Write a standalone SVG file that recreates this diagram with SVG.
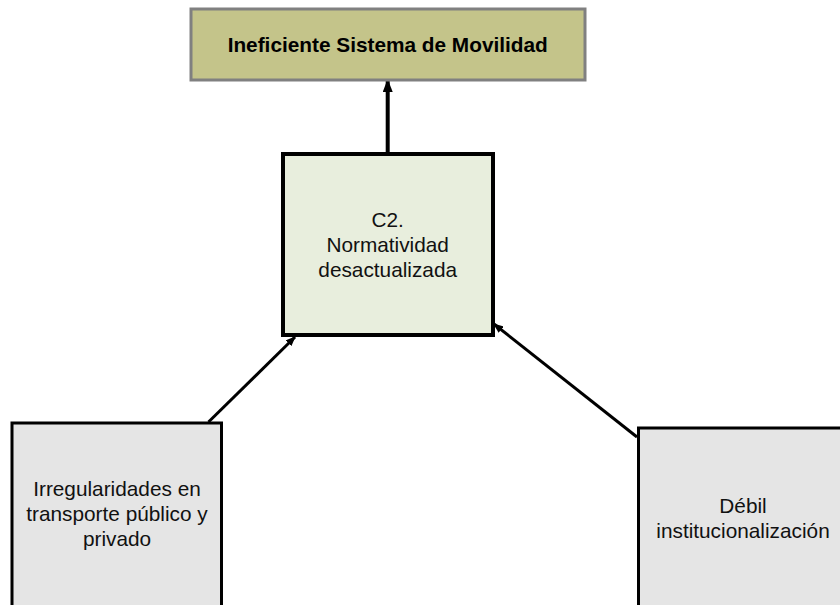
<svg xmlns="http://www.w3.org/2000/svg" width="840" height="605" viewBox="0 0 840 605">
<defs>
<marker id="ah" markerWidth="10" markerHeight="8" refX="9" refY="4" orient="auto" markerUnits="userSpaceOnUse">
<path d="M0,0 L10,4 L0,8 Z" fill="#000"/>
</marker>
<marker id="ah2" markerWidth="13" markerHeight="10" refX="12" refY="5" orient="auto" markerUnits="userSpaceOnUse">
<path d="M0,0 L13,5 L0,10 Z" fill="#000"/>
</marker>
</defs>
<style>
text{font-family:"Liberation Sans",Arial,sans-serif;font-size:20.8px;fill:#111;text-anchor:middle}
.b{font-weight:bold;fill:#000}
.conn{stroke:#000;fill:none}
</style>
<rect width="840" height="605" fill="#fff"/>
<g id="connectors">
<line class="conn" x1="387.7" y1="153" x2="387.7" y2="80" stroke-width="4" marker-end="url(#ah2)"/>
<line class="conn" x1="208.5" y1="422" x2="295" y2="337" stroke-width="3" marker-end="url(#ah)"/>
<line class="conn" x1="637" y1="437" x2="494" y2="324" stroke-width="3" marker-end="url(#ah)"/>
</g>
<g id="top">
<rect x="191" y="9" width="394" height="71" fill="#c4c48a" stroke="#808080" stroke-width="3"/>
<text class="b" x="387.7" y="52">Ineficiente Sistema de Movilidad</text>
</g>
<g id="c2">
<rect x="283" y="154" width="210" height="181" fill="#e8eedd" stroke="#000" stroke-width="4"/>
<text x="387.7" y="227">C2.</text>
<text x="387.7" y="251.7">Normatividad</text>
<text x="387.7" y="276.5">desactualizada</text>
</g>
<g id="left">
<rect x="12" y="423" width="209.5" height="190" fill="#e5e5e5" stroke="#000" stroke-width="3"/>
<text x="117" y="496">Irregularidades en</text>
<text x="117" y="521">transporte público y</text>
<text x="117" y="546">privado</text>
</g>
<g id="right">
<rect x="638.5" y="428" width="210" height="190" fill="#e5e5e5" stroke="#000" stroke-width="3"/>
<text x="743" y="513">Débil</text>
<text x="743" y="537.5">institucionalización</text>
</g>
</svg>
